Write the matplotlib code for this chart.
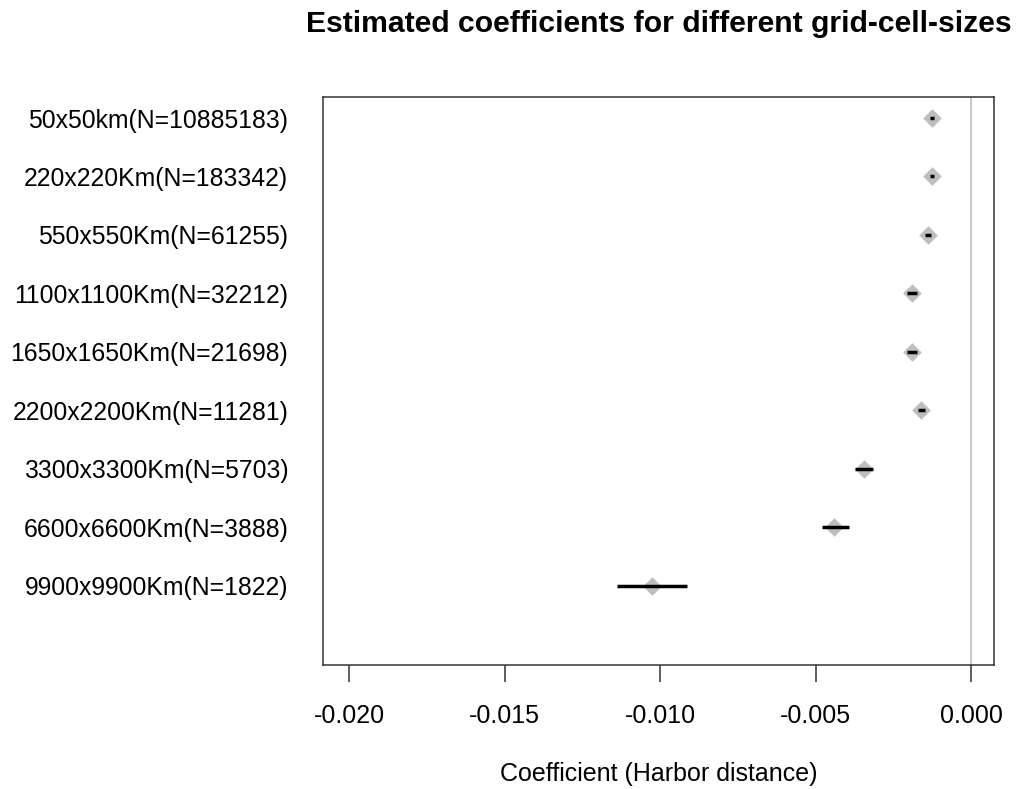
import matplotlib
matplotlib.use("Agg")
import matplotlib.pyplot as plt

labels = ["50x50km(N=10885183)", "220x220Km(N=183342)", "550x550Km(N=61255)",
          "1100x1100Km(N=32212)", "1650x1650Km(N=21698)", "2200x2200Km(N=11281)",
          "3300x3300Km(N=5703)", "6600x6600Km(N=3888)", "9900x9900Km(N=1822)"]
estimates = [-0.00125, -0.00125, -0.00138, -0.0019, -0.0019, -0.0016, -0.00344, -0.0044, -0.01025]
ci_low = [-0.00132, -0.00132, -0.00148, -0.00205, -0.00205, -0.00172, -0.00373, -0.0048, -0.01139]
ci_high = [-0.00118, -0.00118, -0.00128, -0.00175, -0.00175, -0.00148, -0.00314, -0.00391, -0.00913]
xticks = [-0.020, -0.015, -0.010, -0.005, 0.000]

plt.rcParams['font.family'] = ['Liberation Sans', 'DejaVu Sans']

W, H = 1018, 789
fig = plt.figure(figsize=(W/100, H/100), dpi=100)
ax = fig.add_axes([323/W, 1-665/H, (994-323)/W, (665-97)/H])

n = len(labels)
ys = [n - i for i in range(n)]

ax.axvline(0, color="#BEBEBE", lw=1.2, zorder=1)
ax.scatter(estimates, ys, marker="D", s=90, color="#BEBEBE", zorder=2, linewidths=0)
ax.hlines(ys, ci_low, ci_high, color="black", lw=2.5, zorder=3)

ax.set_xlim(-0.02084, 0.00074)
ax.set_ylim(-0.36, 9.36)
ax.set_yticks(ys)
ax.set_yticklabels(labels, fontsize=17.8)
ax.tick_params(axis="y", length=0, pad=25)
ax.set_xticks(xticks)
ax.set_xticklabels([f"{v:.3f}" for v in xticks], fontsize=18)
ax.tick_params(axis="x", length=12.2, width=1.1, pad=16, color="#333333")
for s in ax.spines.values():
    s.set_color("#333333")
    s.set_linewidth(1.1)

fig.text(659/W, 1-781/H, "Coefficient (Harbor distance)", ha="center", va="baseline", fontsize=18)
fig.text(658.5/W, 1-32/H, "Estimated coefficients for different grid-cell-sizes",
         ha="center", va="baseline", fontsize=21.7, fontweight="bold")

fig.savefig("out.png", dpi=100)
